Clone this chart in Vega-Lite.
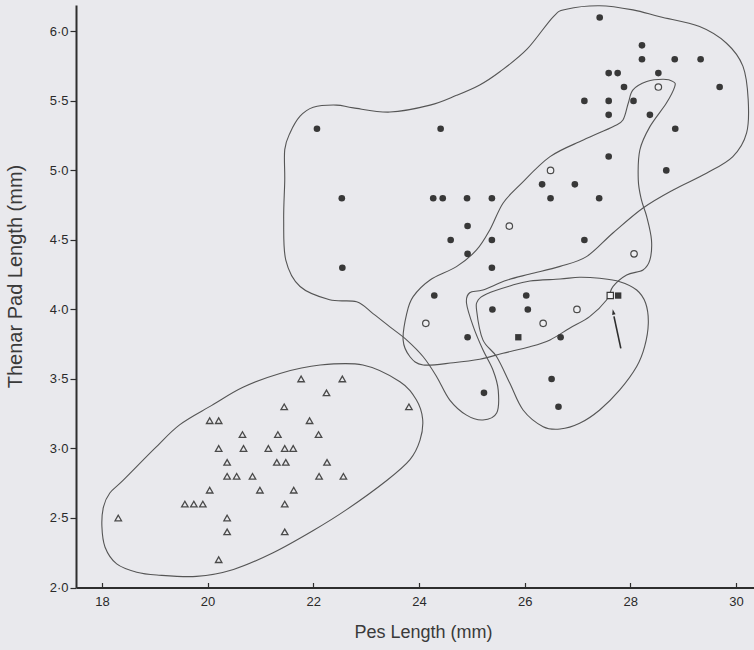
{
  "$schema": "https://vega.github.io/schema/vega-lite/v6.json",
  "width": 678,
  "height": 582.5,
  "autosize": {"type": "none"},
  "padding": {"left": 76, "top": 5, "right": 0, "bottom": 62.5},
  "background": "#e9e9ed",
  "config": {
    "view": {"stroke": null},
    "axis": {
      "grid": false,
      "domainColor": "#2e2e2e",
      "domainWidth": 2,
      "tickColor": "#2e2e2e",
      "tickWidth": 1.2,
      "labelFont": "Liberation Sans",
      "labelFontSize": 13,
      "labelColor": "#2a2a2a",
      "titleFont": "Liberation Sans",
      "titleFontSize": 20,
      "titleFontWeight": "normal",
      "titleColor": "#3a3a3a"
    }
  },
  "datasets": {
    "points": [
      {"g": "triangle", "x": 21.77, "y": 3.5}, {"g": "triangle", "x": 22.55, "y": 3.5},
      {"g": "triangle", "x": 22.25, "y": 3.4},
      {"g": "triangle", "x": 21.45, "y": 3.3}, {"g": "triangle", "x": 23.81, "y": 3.3},
      {"g": "triangle", "x": 20.04, "y": 3.2}, {"g": "triangle", "x": 20.21, "y": 3.2}, {"g": "triangle", "x": 21.93, "y": 3.2},
      {"g": "triangle", "x": 20.66, "y": 3.1}, {"g": "triangle", "x": 21.33, "y": 3.1}, {"g": "triangle", "x": 22.1, "y": 3.1},
      {"g": "triangle", "x": 20.21, "y": 3.0}, {"g": "triangle", "x": 20.68, "y": 3.0}, {"g": "triangle", "x": 21.15, "y": 3.0}, {"g": "triangle", "x": 21.46, "y": 3.0}, {"g": "triangle", "x": 21.62, "y": 3.0},
      {"g": "triangle", "x": 20.37, "y": 2.9}, {"g": "triangle", "x": 21.31, "y": 2.9}, {"g": "triangle", "x": 21.48, "y": 2.9}, {"g": "triangle", "x": 22.26, "y": 2.9},
      {"g": "triangle", "x": 20.37, "y": 2.8}, {"g": "triangle", "x": 20.55, "y": 2.8}, {"g": "triangle", "x": 20.85, "y": 2.8}, {"g": "triangle", "x": 22.11, "y": 2.8}, {"g": "triangle", "x": 22.57, "y": 2.8},
      {"g": "triangle", "x": 20.04, "y": 2.7}, {"g": "triangle", "x": 20.99, "y": 2.7}, {"g": "triangle", "x": 21.63, "y": 2.7},
      {"g": "triangle", "x": 19.57, "y": 2.6}, {"g": "triangle", "x": 19.74, "y": 2.6}, {"g": "triangle", "x": 19.91, "y": 2.6}, {"g": "triangle", "x": 21.46, "y": 2.6},
      {"g": "triangle", "x": 18.31, "y": 2.5}, {"g": "triangle", "x": 20.37, "y": 2.5},
      {"g": "triangle", "x": 20.37, "y": 2.4}, {"g": "triangle", "x": 21.46, "y": 2.4},
      {"g": "triangle", "x": 20.21, "y": 2.2},

      {"g": "filled", "x": 27.42, "y": 6.1},
      {"g": "filled", "x": 28.22, "y": 5.9},
      {"g": "filled", "x": 28.22, "y": 5.8}, {"g": "filled", "x": 28.84, "y": 5.8}, {"g": "filled", "x": 29.33, "y": 5.8},
      {"g": "filled", "x": 27.59, "y": 5.7}, {"g": "filled", "x": 27.76, "y": 5.7}, {"g": "filled", "x": 28.53, "y": 5.7},
      {"g": "filled", "x": 27.88, "y": 5.6}, {"g": "filled", "x": 29.69, "y": 5.6},
      {"g": "filled", "x": 27.13, "y": 5.5}, {"g": "filled", "x": 27.59, "y": 5.5}, {"g": "filled", "x": 28.06, "y": 5.5},
      {"g": "filled", "x": 27.59, "y": 5.4}, {"g": "filled", "x": 28.37, "y": 5.4},
      {"g": "filled", "x": 22.07, "y": 5.3}, {"g": "filled", "x": 24.41, "y": 5.3}, {"g": "filled", "x": 28.85, "y": 5.3},
      {"g": "filled", "x": 27.59, "y": 5.1},
      {"g": "filled", "x": 28.68, "y": 5.0},
      {"g": "filled", "x": 26.33, "y": 4.9}, {"g": "filled", "x": 26.95, "y": 4.9},
      {"g": "filled", "x": 22.54, "y": 4.8}, {"g": "filled", "x": 24.27, "y": 4.8}, {"g": "filled", "x": 24.45, "y": 4.8}, {"g": "filled", "x": 24.91, "y": 4.8}, {"g": "filled", "x": 25.38, "y": 4.8}, {"g": "filled", "x": 26.49, "y": 4.8}, {"g": "filled", "x": 27.41, "y": 4.8},
      {"g": "filled", "x": 24.92, "y": 4.6},
      {"g": "filled", "x": 24.6, "y": 4.5}, {"g": "filled", "x": 25.38, "y": 4.5}, {"g": "filled", "x": 27.13, "y": 4.5},
      {"g": "filled", "x": 24.92, "y": 4.4},
      {"g": "filled", "x": 22.55, "y": 4.3}, {"g": "filled", "x": 25.38, "y": 4.3},
      {"g": "filled", "x": 24.29, "y": 4.1}, {"g": "filled", "x": 26.03, "y": 4.1},
      {"g": "filled", "x": 25.39, "y": 4.0}, {"g": "filled", "x": 26.06, "y": 4.0},
      {"g": "filled", "x": 24.92, "y": 3.8}, {"g": "filled", "x": 26.68, "y": 3.8},
      {"g": "filled", "x": 26.51, "y": 3.5},
      {"g": "filled", "x": 25.23, "y": 3.4},
      {"g": "filled", "x": 26.64, "y": 3.3},

      {"g": "open", "x": 28.53, "y": 5.6},
      {"g": "open", "x": 26.49, "y": 5.0},
      {"g": "open", "x": 25.71, "y": 4.6},
      {"g": "open", "x": 28.07, "y": 4.4},
      {"g": "open", "x": 26.99, "y": 4.0},
      {"g": "open", "x": 24.13, "y": 3.9},
      {"g": "open", "x": 26.35, "y": 3.9},

      {"g": "filled square", "x": 25.88, "y": 3.8},
      {"g": "filled square", "x": 27.77, "y": 4.1},
      {"g": "open square", "x": 27.62, "y": 4.1}
    ],
    "contours": [
      {"c": "A", "i": 1, "x": 18.0, "y": 2.44}, {"c": "A", "i": 2, "x": 18.03, "y": 2.58}, {"c": "A", "i": 3, "x": 18.15, "y": 2.68}, {"c": "A", "i": 4, "x": 18.4, "y": 2.77},
      {"c": "A", "i": 5, "x": 19.0, "y": 3.0}, {"c": "A", "i": 6, "x": 19.47, "y": 3.17}, {"c": "A", "i": 7, "x": 20.08, "y": 3.31}, {"c": "A", "i": 8, "x": 20.67, "y": 3.44},
      {"c": "A", "i": 9, "x": 21.37, "y": 3.54}, {"c": "A", "i": 10, "x": 22.13, "y": 3.6}, {"c": "A", "i": 11, "x": 22.94, "y": 3.6}, {"c": "A", "i": 12, "x": 23.64, "y": 3.48},
      {"c": "A", "i": 13, "x": 23.95, "y": 3.35}, {"c": "A", "i": 14, "x": 24.07, "y": 3.21}, {"c": "A", "i": 15, "x": 24.02, "y": 3.06}, {"c": "A", "i": 16, "x": 23.83, "y": 2.92},
      {"c": "A", "i": 17, "x": 23.39, "y": 2.77}, {"c": "A", "i": 18, "x": 22.63, "y": 2.56}, {"c": "A", "i": 19, "x": 22.0, "y": 2.41}, {"c": "A", "i": 20, "x": 21.24, "y": 2.25},
      {"c": "A", "i": 21, "x": 20.49, "y": 2.13}, {"c": "A", "i": 22, "x": 19.79, "y": 2.08}, {"c": "A", "i": 23, "x": 19.04, "y": 2.09}, {"c": "A", "i": 24, "x": 18.66, "y": 2.11},
      {"c": "A", "i": 25, "x": 18.28, "y": 2.17}, {"c": "A", "i": 26, "x": 18.06, "y": 2.29},

      {"c": "B", "i": 1, "x": 21.75, "y": 5.39}, {"c": "B", "i": 2, "x": 22.0, "y": 5.455}, {"c": "B", "i": 3, "x": 22.44, "y": 5.47}, {"c": "B", "i": 4, "x": 22.76, "y": 5.45},
      {"c": "B", "i": 5, "x": 23.45, "y": 5.42}, {"c": "B", "i": 6, "x": 24.21, "y": 5.47}, {"c": "B", "i": 7, "x": 24.71, "y": 5.54}, {"c": "B", "i": 8, "x": 25.15, "y": 5.615},
      {"c": "B", "i": 9, "x": 25.53, "y": 5.71}, {"c": "B", "i": 10, "x": 26.04, "y": 5.87}, {"c": "B", "i": 11, "x": 26.54, "y": 6.105}, {"c": "B", "i": 12, "x": 26.79, "y": 6.16},
      {"c": "B", "i": 13, "x": 27.42, "y": 6.185}, {"c": "B", "i": 14, "x": 28.05, "y": 6.155}, {"c": "B", "i": 15, "x": 28.56, "y": 6.105}, {"c": "B", "i": 16, "x": 29.31, "y": 6.035},
      {"c": "B", "i": 17, "x": 29.82, "y": 5.915}, {"c": "B", "i": 18, "x": 30.13, "y": 5.75}, {"c": "B", "i": 19, "x": 30.23, "y": 5.51}, {"c": "B", "i": 20, "x": 30.2, "y": 5.27},
      {"c": "B", "i": 21, "x": 29.94, "y": 5.1}, {"c": "B", "i": 22, "x": 29.44, "y": 4.98}, {"c": "B", "i": 23, "x": 28.81, "y": 4.86}, {"c": "B", "i": 24, "x": 28.24, "y": 4.73},
      {"c": "B", "i": 25, "x": 27.67, "y": 4.55}, {"c": "B", "i": 26, "x": 27.17, "y": 4.38}, {"c": "B", "i": 27, "x": 26.67, "y": 4.31}, {"c": "B", "i": 28, "x": 26.1, "y": 4.255},
      {"c": "B", "i": 29, "x": 25.66, "y": 4.21}, {"c": "B", "i": 30, "x": 25.21, "y": 4.14}, {"c": "B", "i": 31, "x": 24.96, "y": 4.12}, {"c": "B", "i": 32, "x": 24.9, "y": 4.045},
      {"c": "B", "i": 33, "x": 25.03, "y": 3.875}, {"c": "B", "i": 34, "x": 25.21, "y": 3.71}, {"c": "B", "i": 35, "x": 25.4, "y": 3.565}, {"c": "B", "i": 36, "x": 25.5, "y": 3.42},
      {"c": "B", "i": 37, "x": 25.47, "y": 3.255}, {"c": "B", "i": 38, "x": 25.21, "y": 3.205}, {"c": "B", "i": 39, "x": 24.9, "y": 3.24}, {"c": "B", "i": 40, "x": 24.58, "y": 3.35},
      {"c": "B", "i": 41, "x": 24.33, "y": 3.52}, {"c": "B", "i": 42, "x": 24.08, "y": 3.66}, {"c": "B", "i": 43, "x": 23.77, "y": 3.78}, {"c": "B", "i": 44, "x": 23.45, "y": 3.875},
      {"c": "B", "i": 45, "x": 23.13, "y": 3.97}, {"c": "B", "i": 46, "x": 22.82, "y": 4.055}, {"c": "B", "i": 47, "x": 22.31, "y": 4.07}, {"c": "B", "i": 48, "x": 21.75, "y": 4.165},
      {"c": "B", "i": 49, "x": 21.48, "y": 4.355}, {"c": "B", "i": 50, "x": 21.44, "y": 4.645}, {"c": "B", "i": 51, "x": 21.46, "y": 4.93}, {"c": "B", "i": 52, "x": 21.46, "y": 5.15},
      {"c": "B", "i": 53, "x": 21.56, "y": 5.27},

      {"c": "C", "i": 1, "x": 28.62, "y": 5.656}, {"c": "C", "i": 2, "x": 28.81, "y": 5.639}, {"c": "C", "i": 3, "x": 28.84, "y": 5.603}, {"c": "C", "i": 4, "x": 28.68, "y": 5.483},
      {"c": "C", "i": 5, "x": 28.37, "y": 5.315}, {"c": "C", "i": 6, "x": 28.18, "y": 5.147}, {"c": "C", "i": 7, "x": 28.15, "y": 4.932}, {"c": "C", "i": 8, "x": 28.21, "y": 4.788},
      {"c": "C", "i": 9, "x": 28.31, "y": 4.668}, {"c": "C", "i": 10, "x": 28.4, "y": 4.5}, {"c": "C", "i": 11, "x": 28.37, "y": 4.356}, {"c": "C", "i": 12, "x": 28.24, "y": 4.284},
      {"c": "C", "i": 13, "x": 27.93, "y": 4.248}, {"c": "C", "i": 14, "x": 27.67, "y": 4.164}, {"c": "C", "i": 15, "x": 27.55, "y": 4.068}, {"c": "C", "i": 16, "x": 27.23, "y": 3.948},
      {"c": "C", "i": 17, "x": 26.85, "y": 3.865}, {"c": "C", "i": 18, "x": 26.48, "y": 3.781}, {"c": "C", "i": 19, "x": 26.1, "y": 3.732}, {"c": "C", "i": 20, "x": 25.59, "y": 3.685},
      {"c": "C", "i": 21, "x": 25.15, "y": 3.642}, {"c": "C", "i": 22, "x": 24.65, "y": 3.617}, {"c": "C", "i": 23, "x": 24.08, "y": 3.601}, {"c": "C", "i": 24, "x": 23.83, "y": 3.66},
      {"c": "C", "i": 25, "x": 23.7, "y": 3.781}, {"c": "C", "i": 26, "x": 23.77, "y": 3.973}, {"c": "C", "i": 27, "x": 23.89, "y": 4.092}, {"c": "C", "i": 28, "x": 24.21, "y": 4.212},
      {"c": "C", "i": 29, "x": 24.71, "y": 4.308}, {"c": "C", "i": 30, "x": 25.09, "y": 4.428}, {"c": "C", "i": 31, "x": 25.34, "y": 4.572}, {"c": "C", "i": 32, "x": 25.59, "y": 4.764},
      {"c": "C", "i": 33, "x": 25.91, "y": 4.896}, {"c": "C", "i": 34, "x": 26.48, "y": 5.099}, {"c": "C", "i": 35, "x": 27.11, "y": 5.219}, {"c": "C", "i": 36, "x": 27.67, "y": 5.315},
      {"c": "C", "i": 37, "x": 27.86, "y": 5.363}, {"c": "C", "i": 38, "x": 27.96, "y": 5.483}, {"c": "C", "i": 39, "x": 28.05, "y": 5.579}, {"c": "C", "i": 40, "x": 28.31, "y": 5.639},

      {"c": "D", "i": 1, "x": 25.09, "y": 3.996}, {"c": "D", "i": 2, "x": 25.12, "y": 4.068}, {"c": "D", "i": 3, "x": 25.28, "y": 4.112}, {"c": "D", "i": 4, "x": 25.72, "y": 4.169},
      {"c": "D", "i": 5, "x": 26.1, "y": 4.205}, {"c": "D", "i": 6, "x": 26.67, "y": 4.219}, {"c": "D", "i": 7, "x": 27.04, "y": 4.232}, {"c": "D", "i": 8, "x": 27.42, "y": 4.224},
      {"c": "D", "i": 9, "x": 27.8, "y": 4.2}, {"c": "D", "i": 10, "x": 28.12, "y": 4.14}, {"c": "D", "i": 11, "x": 28.29, "y": 4.045}, {"c": "D", "i": 12, "x": 28.34, "y": 3.901},
      {"c": "D", "i": 13, "x": 28.27, "y": 3.732}, {"c": "D", "i": 14, "x": 28.12, "y": 3.589}, {"c": "D", "i": 15, "x": 27.8, "y": 3.421}, {"c": "D", "i": 16, "x": 27.42, "y": 3.277},
      {"c": "D", "i": 17, "x": 27.04, "y": 3.181}, {"c": "D", "i": 18, "x": 26.67, "y": 3.14}, {"c": "D", "i": 19, "x": 26.35, "y": 3.157}, {"c": "D", "i": 20, "x": 25.97, "y": 3.277},
      {"c": "D", "i": 21, "x": 25.72, "y": 3.469}, {"c": "D", "i": 22, "x": 25.47, "y": 3.66}, {"c": "D", "i": 23, "x": 25.21, "y": 3.781}
    ],
    "arrow": [
      {"x": 27.82, "y": 3.72, "x2": 27.69, "y2": 3.95}
    ],
    "arrowhead": [
      {"x": 27.68, "y": 3.977}
    ]
  },
  "encoding": {
    "x": {
      "field": "x",
      "type": "quantitative",
      "scale": {"domain": [17.51, 30.34], "nice": false, "zero": false},
      "axis": {
        "title": "Pes Length (mm)",
        "values": [18, 20, 22, 24, 26, 28, 30],
        "format": "d",
        "tickSize": -5,
        "labelPadding": 13,
        "titleFontSize": 18,
        "titleBaseline": "top",
        "titleX": 347,
        "titleY": 36
      }
    },
    "y": {
      "field": "y",
      "type": "quantitative",
      "scale": {"domain": [2.0, 6.19], "nice": false, "zero": false},
      "axis": {
        "title": "Thenar Pad Length (mm)",
        "values": [2.0, 2.5, 3.0, 3.5, 4.0, 4.5, 5.0, 5.5, 6.0],
        "labelExpr": "replace(format(datum.value, '.1f'), '.', '·')",
        "tickSize": 6,
        "labelPadding": 2,
        "titleX": -51,
        "titleY": 271
      }
    }
  },
  "layer": [
    {
      "data": {"name": "contours"},
      "mark": {"type": "line", "interpolate": "cardinal-closed", "stroke": "#555555", "strokeWidth": 1.1},
      "encoding": {
        "detail": {"field": "c", "type": "nominal"},
        "order": {"field": "i", "type": "quantitative"}
      }
    },
    {
      "data": {"name": "arrow"},
      "mark": {"type": "rule", "stroke": "#2e2e2e", "strokeWidth": 1.6},
      "encoding": {
        "x2": {"field": "x2"},
        "y2": {"field": "y2"}
      }
    },
    {
      "data": {"name": "arrowhead"},
      "mark": {"type": "point", "shape": "M0,-1L0.5,0.6L-0.5,0.6Z", "size": 48, "filled": true, "color": "#2e2e2e", "opacity": 1, "angle": 348}
    },
    {
      "data": {"name": "points"},
      "transform": [{"filter": "datum.g == 'triangle'"}],
      "mark": {"type": "point", "shape": "triangle-up", "size": 42, "filled": false, "stroke": "#4a4a4a", "strokeWidth": 1.3, "opacity": 1}
    },
    {
      "data": {"name": "points"},
      "transform": [{"filter": "datum.g == 'filled'"}],
      "mark": {"type": "circle", "size": 44, "color": "#383838", "opacity": 1}
    },
    {
      "data": {"name": "points"},
      "transform": [{"filter": "datum.g == 'open'"}],
      "mark": {"type": "point", "shape": "circle", "size": 42, "filled": true, "fill": "#eeeef1", "stroke": "#4a4a4a", "strokeWidth": 1.2, "opacity": 1}
    },
    {
      "data": {"name": "points"},
      "transform": [{"filter": "datum.g == 'filled square'"}],
      "mark": {"type": "square", "size": 40, "color": "#383838", "opacity": 1}
    },
    {
      "data": {"name": "points"},
      "transform": [{"filter": "datum.g == 'open square'"}],
      "mark": {"type": "point", "shape": "square", "size": 40, "filled": true, "fill": "#f2f2f4", "stroke": "#383838", "strokeWidth": 1.2, "opacity": 1}
    }
  ]
}
